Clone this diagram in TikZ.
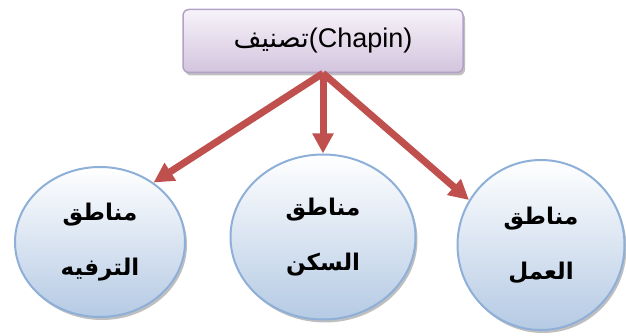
\documentclass[tikz,border=0pt]{standalone}
\usepackage{fontspec}
\setmainfont{Liberation Sans}
\newfontfamily\arabicfont[Script=Arabic]{DejaVu Sans}
\TeXXeTstate=1
\usetikzlibrary{positioning,shapes}
\usetikzlibrary{shadows}
\usetikzlibrary{arrows.meta,arrows}
\definecolor{linkred}{HTML}{C0504D}
\definecolor{classedge}{HTML}{B3A2C7}
\definecolor{classtop}{HTML}{F7F3FA}
\definecolor{classbottom}{HTML}{D3C4DD}
\definecolor{zoneedge}{HTML}{8EAFD8}
\definecolor{zonebottom}{HTML}{B5CAE4}
\tikzset{%
  % Specifications for style of nodes:
    >={Triangle[width=20pt,length=20pt]},
    classbox/.style={draw=classedge, line width=1.5pt, rounded corners=6pt,
      top color=classtop, bottom color=classbottom,
      minimum width=280pt, minimum height=63pt, inner sep=0,
      drop shadow={shadow xshift=2pt, shadow yshift=-3pt, fill=black!50, opacity=.5},
      font=\fontsize{27}{30}\selectfont},
    zone/.style={ellipse, draw=zoneedge, line width=2pt,
      top color=white, bottom color=zonebottom, inner sep=0, align=center,
      drop shadow={shadow xshift=2pt, shadow yshift=-3pt, fill=black!50, opacity=.5},
      font=\arabicfont\bfseries\fontsize{23}{55}\selectfont},
    link/.style={->, draw=linkred, line width=7pt},
}
\begin{document}
\begin{tikzpicture}[x=1pt,y=-1pt]
    \useasboundingbox (0,0) rectangle (626,336);
    \node[classbox] (class) at (323,41) {{\arabicfont\beginR تصنيف\endR}(Chapin)};
    % the three zones
    \node[zone, minimum width=170pt, minimum height=150pt] (leisure) at (100,242)
      {\beginR مناطق\endR\\\beginR الترفيه\endR};
    \node[zone, minimum width=185pt, minimum height=165pt] (housing) at (323,237)
      {\beginR مناطق\endR\\\beginR السكن\endR};
    \node[zone, minimum width=167pt, minimum height=170pt] (work) at (541,245)
      {\beginR مناطق\endR\\\beginR العمل\endR};
    \draw[link] (class.south) -- (leisure.48);
    \draw[link] (class.south) -- (housing.north);
    \draw[link] (class.south) -- (work.148);
  \end{tikzpicture}
\end{document}
